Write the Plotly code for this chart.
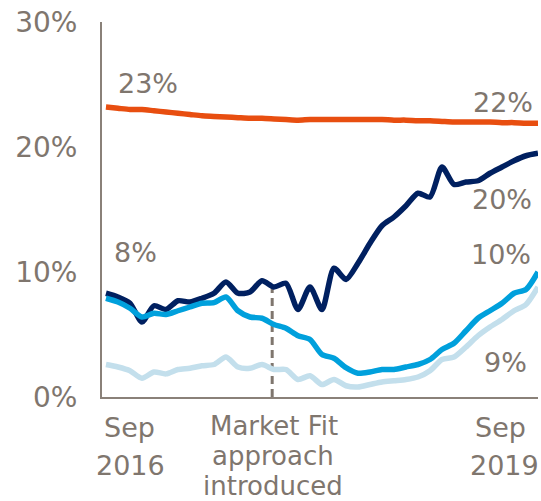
import plotly.graph_objects as go

months = list(range(37))  # Sep 2016 .. Sep 2019, monthly

orange = [23.2, 23.1, 23.0, 23.0, 22.9, 22.8, 22.7, 22.6, 22.5, 22.45, 22.4, 22.35, 22.3,
          22.3, 22.25, 22.2, 22.15, 22.2, 22.2, 22.2, 22.2, 22.2, 22.2, 22.2, 22.15, 22.15,
          22.1, 22.1, 22.05, 22.0, 22.0, 22.0, 22.0, 21.95, 21.95, 21.9, 21.9]
navy = [8.3, 8.0, 7.5, 6.0, 7.3, 7.0, 7.7, 7.6, 7.9, 8.3, 9.2, 8.3, 8.4, 9.3, 8.8, 9.1,
        7.0, 8.8, 7.0, 10.3, 9.4, 10.7, 12.3, 13.7, 14.4, 15.3, 16.3, 16.0, 18.4, 17.0,
        17.2, 17.3, 17.9, 18.4, 18.9, 19.3, 19.5]
mid_blue = [7.9, 7.6, 7.1, 6.4, 6.7, 6.6, 6.9, 7.2, 7.5, 7.55, 8.0, 6.9, 6.4, 6.3, 5.8,
            5.5, 4.9, 4.6, 3.4, 3.1, 2.35, 1.9, 2.0, 2.2, 2.2, 2.4, 2.6, 3.0, 3.8, 4.3,
            5.3, 6.3, 6.9, 7.5, 8.3, 8.6, 10.0]
light_blue = [2.6, 2.4, 2.1, 1.5, 2.0, 1.85, 2.2, 2.3, 2.5, 2.6, 3.2, 2.4, 2.3, 2.6, 2.2,
              2.2, 1.4, 1.7, 1.0, 1.4, 0.9, 0.8, 1.0, 1.2, 1.3, 1.4, 1.6, 2.1, 3.0, 3.2,
              4.0, 4.9, 5.6, 6.2, 6.9, 7.4, 8.8]

y_ticks = [0, 10, 20, 30]
y_tick_labels = ["0%", "10%", "20%", "30%"]
market_fit_index = 14

GREY = "#7f766e"
FONT = "DejaVu Sans"

fig = go.Figure()
series = [
    (light_blue, "#c3dfec"),
    (navy, "#002060"),
    (mid_blue, "#00a0dc"),
    (orange, "#e84e10"),
]
for vals, col in series:
    fig.add_trace(go.Scatter(x=months, y=vals, mode="lines",
                             line=dict(color=col, width=5.5, shape="spline", smoothing=0.7),
                             hoverinfo="skip", showlegend=False, cliponaxis=False))

fig.add_shape(type="line", x0=market_fit_index - 0.15, x1=market_fit_index - 0.15,
              y0=0, y1=9.3, xref="x", yref="y",
              line=dict(color=GREY, width=3, dash="8px,5px"), layer="below")

value_labels = [
    ("23%", 3.5, 25.1),
    ("22%", 33.1, 23.6),
    ("20%", 33.0, 15.8),
    ("8%", 2.5, 11.6),
    ("10%", 32.9, 11.4),
    ("9%", 33.25, 2.8),
]
for t, x, y in value_labels:
    fig.add_annotation(text=t, x=x, y=y, xref="x", yref="y", showarrow=False,
                       xanchor="center", yanchor="middle",
                       font=dict(family=FONT, size=27, color=GREY))

# y positions below the axis, in paper units (plot height 375 px, axis at 397 px)
x_labels = [
    ("Sep", 2.0, -0.082, 27),
    ("2016", 2.05, -0.182, 27),
    ("Market Fit", 14.0, -0.0773, 26),
    ("approach", 13.9, -0.1573, 26),
    ("introduced", 13.9, -0.2373, 26),
    ("Sep", 32.85, -0.082, 27),
    ("2019", 33.2, -0.182, 27),
]
for t, x, y, fs in x_labels:
    fig.add_annotation(text=t, x=x, y=y, xref="x", yref="paper", showarrow=False,
                       xanchor="center", yanchor="middle",
                       font=dict(family=FONT, size=fs, color=GREY))

fig.update_layout(
    width=541, height=501,
    margin=dict(l=102, r=3, t=22, b=104),
    plot_bgcolor="white", paper_bgcolor="white",
    font=dict(family=FONT, size=26, color=GREY),
    xaxis=dict(range=[-0.33, 36.0], showgrid=False, zeroline=False, showticklabels=False,
               showline=True, linecolor="#8a8179", linewidth=2, ticks="", automargin=False),
    yaxis=dict(range=[0, 30], showgrid=False, zeroline=False, tickvals=y_ticks,
               ticktext=y_tick_labels, showline=True, linecolor="#8a8179", linewidth=2,
               ticks="", ticklabelstandoff=17, automargin=False,
               tickfont=dict(family=FONT, size=28, color=GREY)),
)

fig.write_html("out.html", post_script="document.body.style.margin='0';",
               config={"displayModeBar": False})
